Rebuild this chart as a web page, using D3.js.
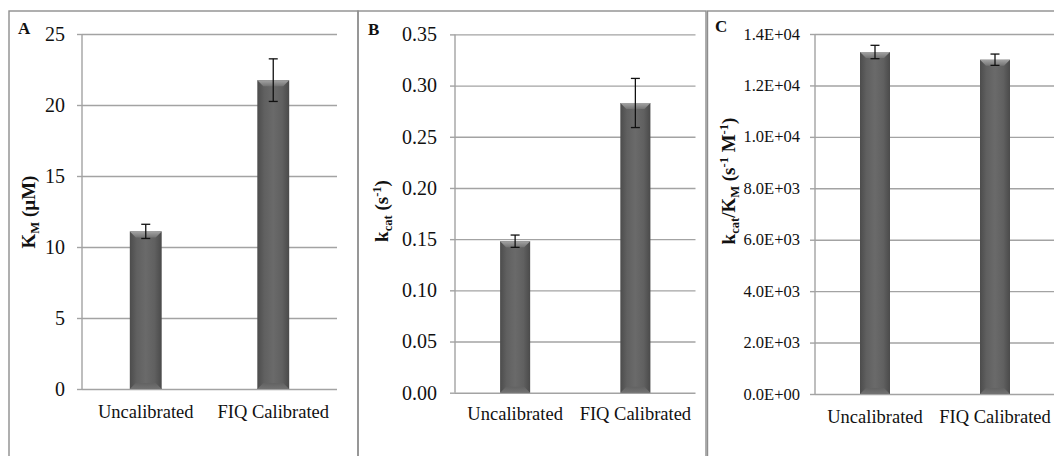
<!DOCTYPE html>
<html>
<head>
<meta charset="utf-8">
<script src="https://cdn.jsdelivr.net/npm/d3@7"></script>
<style>
body { margin: 0; background: #fff; }
svg { display: block; font-family: "Liberation Serif", "Times New Roman", serif; }
.grid line { stroke: #a3a3a3; stroke-width: 1.4; }
.grid path { display: none; }
.ticks line { stroke: #a3a3a3; stroke-width: 1.4; }
.ticks path { display: none; }
.frame { fill: none; stroke: #8e8e8e; stroke-width: 1.4; }
.err { stroke: #111; stroke-width: 1.3; }
</style>
</head>
<body>
<script>
var categories = ["Uncalibrated", "FIQ Calibrated"];

var kmValues = [11.1, 21.75];
var kmErr = [0.5, 1.5];
var kmTicks = [0, 5, 10, 15, 20, 25];

var kcatValues = [0.148, 0.283];
var kcatErr = [0.006, 0.024];
var kcatTicks = [0, 0.05, 0.10, 0.15, 0.20, 0.25, 0.30, 0.35];

var effValues = [13300, 13000];
var effErr = [260, 220];
var effTicks = [0, 2000, 4000, 6000, 8000, 10000, 12000, 14000];

function sciFmt(v) {
    if (v == 0) return "0.0E+00";
    var e = Math.floor(Math.log10(v));
    var m = v / Math.pow(10, e);
    return m.toFixed(1) + "E+" + (e < 10 ? "0" + e : e);
}

var svg = d3.select("body").append("svg")
    .attr("width", 1054)
    .attr("height", 456);

var defs = svg.append("defs");

var g1 = defs.append("linearGradient").attr("id", "barbody")
    .attr("x1", 0).attr("x2", 1).attr("y1", 0).attr("y2", 0);
g1.append("stop").attr("offset", "0%").attr("stop-color", "#4c4c4c");
g1.append("stop").attr("offset", "22%").attr("stop-color", "#606060");
g1.append("stop").attr("offset", "50%").attr("stop-color", "#6a6a6a");
g1.append("stop").attr("offset", "78%").attr("stop-color", "#606060");
g1.append("stop").attr("offset", "100%").attr("stop-color", "#4a4a4a");

var g2 = defs.append("linearGradient").attr("id", "bartop")
    .attr("x1", 0).attr("x2", 0).attr("y1", 0).attr("y2", 1);
g2.append("stop").attr("offset", "0%").attr("stop-color", "#a4a4a4");
g2.append("stop").attr("offset", "100%").attr("stop-color", "#747474");

var g3 = defs.append("linearGradient").attr("id", "barbot")
    .attr("x1", 0).attr("x2", 0).attr("y1", 0).attr("y2", 1);
g3.append("stop").attr("offset", "0%").attr("stop-color", "#626262");
g3.append("stop").attr("offset", "100%").attr("stop-color", "#727272");

// panel frames
svg.append("rect").attr("class", "frame").attr("x", 9).attr("y", 11).attr("width", 349).attr("height", 470);
svg.append("rect").attr("class", "frame").attr("x", 358).attr("y", 11).attr("width", 348).attr("height", 470);
svg.append("rect").attr("class", "frame").attr("x", 707.5).attr("y", 11).attr("width", 360).attr("height", 470);

function drawPanel(p) {
    var g = svg.append("g");

    var y = d3.scaleLinear().domain([0, p.max]).range([p.y0, p.y1]);
    var x = d3.scaleBand().domain(categories).range([p.x0, p.x1]).padding(0);

    g.append("g").attr("class", "grid")
        .attr("transform", "translate(" + p.x0 + ",0)")
        .call(d3.axisLeft(y).tickValues(p.ticks).tickSize(-(p.x1 - p.x0)).tickFormat(""));

    g.append("g").attr("class", "ticks")
        .attr("transform", "translate(" + p.x0 + ",0)")
        .call(d3.axisLeft(y).tickValues(p.ticks).tickSize(5).tickFormat(""));

    // tick labels, drawn as plain text so they keep the serif face
    g.selectAll("text.tl").data(p.ticks).enter().append("text")
        .attr("class", "tl")
        .attr("x", p.x0 - 5 - p.pad)
        .attr("y", function (d) { return y(d); })
        .attr("dy", "0.34em")
        .attr("text-anchor", "end")
        .attr("fill", "#111")
        .style("font-size", p.tickFont + "px")
        .text(p.fmt);

    g.append("line")
        .attr("x1", p.x0).attr("x2", p.x0)
        .attr("y1", y(0)).attr("y2", y(p.max))
        .attr("stroke", "#a3a3a3").attr("stroke-width", 1.4);

    var bw = x.bandwidth() * 0.25;

    categories.forEach(function (c, i) {
        var cx = x(c) + x.bandwidth() / 2;
        var top = y(p.values[i]);
        var bot = y(0);
        var bev = 6;

        g.append("rect")
            .attr("x", cx - bw / 2).attr("y", top)
            .attr("width", bw).attr("height", bot - top)
            .attr("fill", "url(#barbody)");

        g.append("polygon")
            .attr("points", [
                [cx - bw / 2, top], [cx + bw / 2, top],
                [cx + bw / 2 - bev, top + bev], [cx - bw / 2 + bev, top + bev]
            ].join(" "))
            .attr("fill", "url(#bartop)");

        g.append("polygon")
            .attr("points", [
                [cx - bw / 2 + bev, bot - bev], [cx + bw / 2 - bev, bot - bev],
                [cx + bw / 2, bot], [cx - bw / 2, bot]
            ].join(" "))
            .attr("fill", "url(#barbot)");

        var eh = y(p.values[i] + p.err[i]);
        var el = y(p.values[i] - p.err[i]);
        g.append("line").attr("class", "err")
            .attr("x1", cx).attr("x2", cx).attr("y1", eh).attr("y2", el);
        g.append("line").attr("class", "err")
            .attr("x1", cx - 4.5).attr("x2", cx + 4.5).attr("y1", eh).attr("y2", eh);
        g.append("line").attr("class", "err")
            .attr("x1", cx - 4.5).attr("x2", cx + 4.5).attr("y1", el).attr("y2", el);

        g.append("text")
            .attr("x", cx).attr("y", p.catY)
            .attr("text-anchor", "middle")
            .style("font-size", "18.5px")
            .attr("fill", "#111")
            .text(c);
    });

    g.append("text")
        .attr("x", p.letter[0]).attr("y", p.letter[1])
        .style("font-size", "17px").style("font-weight", "bold")
        .attr("fill", "#111")
        .text(p.name);

    var t = g.append("text")
        .attr("transform", "translate(" + p.title[0] + "," + p.title[1] + ") rotate(-90)")
        .attr("text-anchor", "middle")
        .style("font-size", "19px").style("font-weight", "bold")
        .attr("fill", "#111");
    p.titleParts.forEach(function (part) {
        var s = t.append("tspan").text(part[0]);
        if (part[1] == "sub") s.attr("dy", 4).style("font-size", "12.5px");
        else if (part[1] == "sup") s.attr("dy", -7).style("font-size", "12.5px");
        else if (part[1] == "upFromSub") s.attr("dy", -4);
        else if (part[1] == "downFromSup") s.attr("dy", 7);
    });
}

drawPanel({
    name: "A", letter: [18, 34],
    values: kmValues, err: kmErr, ticks: kmTicks, max: 25,
    fmt: d3.format("d"), tickFont: 20, pad: 12,
    x0: 82, x1: 337, y0: 389, y1: 34, catY: 418,
    title: [35, 212],
    titleParts: [["K", ""], ["M", "sub"], [" (µM)", "upFromSub"]]
});

drawPanel({
    name: "B", letter: [368, 35],
    values: kcatValues, err: kcatErr, ticks: kcatTicks, max: 0.35,
    fmt: d3.format(".2f"), tickFont: 20, pad: 13,
    x0: 455, x1: 695.5, y0: 392.7, y1: 34.4, catY: 420,
    title: [388, 211],
    titleParts: [["k", ""], ["cat", "sub"], [" (s", "upFromSub"], ["-1", "sup"], [")", "downFromSup"]]
});

drawPanel({
    name: "C", letter: [715, 32],
    values: effValues, err: effErr, ticks: effTicks, max: 14000,
    fmt: sciFmt, tickFont: 16.5, pad: 10,
    x0: 815, x1: 1055, y0: 394, y1: 34, catY: 422.5,
    title: [735, 181],
    titleParts: [["k", ""], ["cat", "sub"], ["/K", "upFromSub"], ["M", "sub"], [" (s", "upFromSub"],
                 ["-1", "sup"], [" M", "downFromSup"], ["-1", "sup"], [")", "downFromSup"]]
});
</script>
</body>
</html>
